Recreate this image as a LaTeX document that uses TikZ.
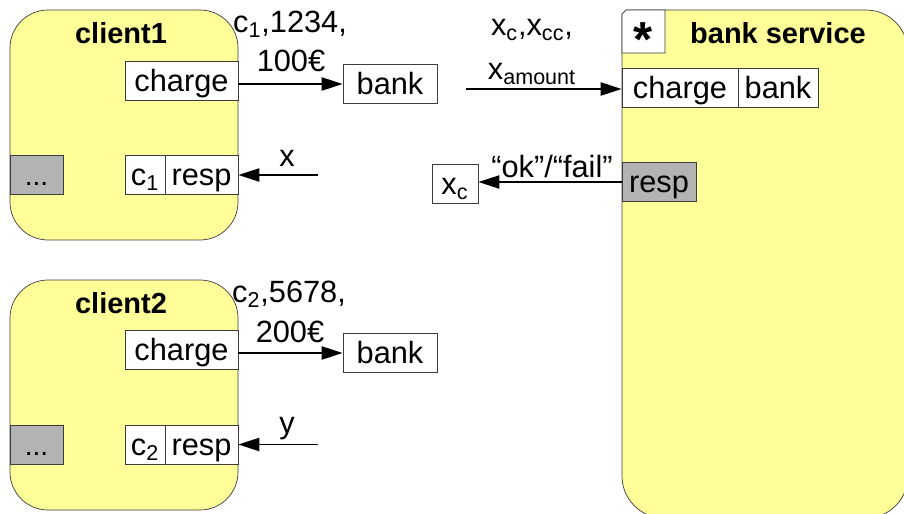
\documentclass[tikz,border=0pt]{standalone}
\usepackage{fontspec}
\setmainfont{Liberation Sans}
\usetikzlibrary{arrows.meta, positioning}
\newdimen\px \px=0.02cm
\definecolor{compyellow}{RGB}{255,255,153}
\definecolor{portgray}{RGB}{179,179,179}
\definecolor{edgegray}{RGB}{60,60,60}

\begin{document}
\begin{tikzpicture}[x=0.02cm, y=-0.02cm, >={Triangle[length=12pt, width=7.5pt]},
		every node/.style={font=\fontsize{17.5}{20}\selectfont, inner sep=0pt},
		component/.style={draw=edgegray, fill=compyellow, rounded corners=38\px, minimum width=228\px, minimum height=230\px},
		title/.style={font=\fontsize{16.5}{18}\selectfont\bfseries},
		port/.style={draw=edgegray, fill=white, minimum height=39\px, text height=12.5pt, text depth=0pt},
		hidden/.style={port, fill=portgray},
		flow/.style={->, line width=1.1pt}]
		
		\useasboundingbox (0,0) rectangle (904,514);
		\clip (0,0) rectangle (904,514);
		
		% client 1
		\node[component] (client1) at (124,125) {};
		\node[title] (client1title) at (121,33) {client1};
		\node[port, minimum width=113\px] (charge1) at (181.5,81) {charge};
		\node[port, minimum width=40\px] (c1) at (145,175) {c\textsubscript{1}};
		\node[port, minimum width=73\px] (resp1) at (201.5,175) {resp};
		\node[hidden, minimum width=53\px, font=\fontsize{16}{18}\selectfont] (dots1) at (36.5,175) {...};
		\node[port, minimum width=94\px] (bank1) at (390,84) {bank};
		\coordinate (xin1) at (318,175);
		\node (args1a) at (290,24) {c\textsubscript{1},1234,};
		\node (args1b) at (291,61) {100€};
		\node (xlab1) at (287,158) {x};
		
		\draw[flow] (charge1.east |- bank1) -- (bank1);
		\draw[flow] (xin1) -- (xin1 -| resp1.east);
		
		% client 2
		\node[component] (client2) at (124,395) {};
		\node[title] (client2title) at (121,303) {client2};
		\node[port, minimum width=113\px] (charge2) at (181.5,350) {charge};
		\node[port, minimum width=40\px] (c2) at (145,444.5) {c\textsubscript{2}};
		\node[port, minimum width=73\px] (resp2) at (201.5,444.5) {resp};
		\node[hidden, minimum width=53\px, font=\fontsize{16}{18}\selectfont] (dots2) at (36.5,444.5) {...};
		\node[port, minimum width=94\px] (bank2) at (390,353) {bank};
		\coordinate (xin2) at (318,444.5);
		\node (args2a) at (289,294) {c\textsubscript{2},5678,};
		\node (args2b) at (290,332) {200€};
		\node (ylab2) at (287,429) {y};
		
		\draw[flow] (charge2.east |- bank2) -- (bank2);
		\draw[flow] (xin2) -- (xin2 -| resp2.east);
		
		% bank service
		\draw[draw=edgegray, fill=compyellow] (622,14) -- (626,10) -- (866,10) arc[start angle=270, end angle=360, radius=42]
			-- (908,476) arc[start angle=0, end angle=90, radius=42] -- (664,518) arc[start angle=90, end angle=180, radius=42] -- cycle;
		\draw[draw=edgegray, fill=white] (622,14) -- (626,10) -- (665,10) -- (665,53) -- (622,53) -- cycle;
		\node[font=\fontsize{28}{28}\selectfont\bfseries] (star) at (643,40) {*};
		\node[title] (srvtitle) at (778,33) {bank service};
		\node[port, minimum width=116\px] (srvcharge) at (680,87.5) {charge};
		\node[port, minimum width=80\px] (srvbank) at (778,87.5) {bank};
		\node[hidden, minimum width=74\px] (srvresp) at (659,182) {resp};
		\node[port, minimum width=46\px] (xc) at (455,184) {x\textsubscript{c}};
		\coordinate (xin) at (466,89);
		\node (argsa) at (532,30) {x\textsubscript{c},x\textsubscript{cc},};
		\node (argsb) at (532,74) {x\textsubscript{amount}};
		\node (reply) at (552,167) {“ok”/“fail”};
		
		\draw[flow] (xin) -- (xin -| srvcharge.west);
		\draw[flow] (srvresp.west) -- (srvresp.west -| xc.east);
		
	\end{tikzpicture}
\end{document}
